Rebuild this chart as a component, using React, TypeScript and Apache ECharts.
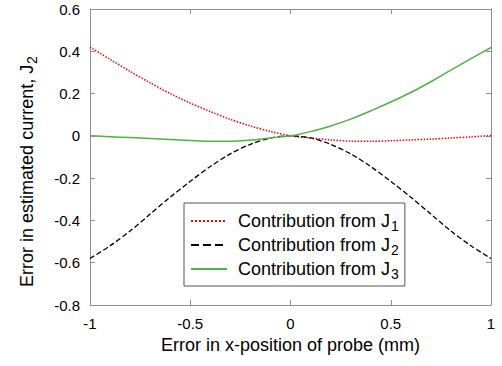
import React, { useEffect, useRef } from "react";
import * as echarts from "echarts";

const xs = [-1, -0.9, -0.8, -0.7, -0.6, -0.5, -0.4, -0.3, -0.2, -0.1, 0, 0.1, 0.2, 0.3, 0.4, 0.5, 0.6, 0.7, 0.8, 0.9, 1];
const j1 = [0.42, 0.362, 0.305, 0.251, 0.2, 0.155, 0.115, 0.078, 0.047, 0.021, 0, -0.01, -0.019, -0.025, -0.026, -0.023, -0.019, -0.015, -0.01, -0.005, 0.002];
const j2 = [-0.58, -0.52, -0.45, -0.37, -0.29, -0.215, -0.145, -0.085, -0.04, -0.01, 0, -0.01, -0.04, -0.085, -0.145, -0.215, -0.29, -0.37, -0.45, -0.52, -0.58];
const j3 = [0, -0.004, -0.008, -0.012, -0.017, -0.022, -0.026, -0.026, -0.02, -0.01, 0, 0.02, 0.047, 0.079, 0.118, 0.16, 0.205, 0.256, 0.311, 0.365, 0.418];

const seriesNames = ["Contribution from J1", "Contribution from J2", "Contribution from J3"];
const subs = ["1", "2", "3"];
const xTicks = { min: -1, max: 1, interval: 0.5 };
const yTicks = { min: -0.8, max: 0.6, interval: 0.2 };
const xName = "Error in x-position of probe (mm)";
const yNameMain = "Error in estimated current, J";
const yNameSub = "2";

const FONT = "Liberation Sans";
const AXIS_COLOR = "#8f8f8f";

export default function App() {
  const ref = useRef<HTMLDivElement>(null);
  useEffect(() => {
    if (!ref.current) return;
    const chart = echarts.init(ref.current, null, { renderer: "svg" });
    const pairs = (ys: number[]) => xs.map((x, i) => [x, ys[i]]);
    const axisCommon = {
      axisLine: { show: true, onZero: false, lineStyle: { color: AXIS_COLOR, width: 1 } },
      axisTick: { show: true, inside: true, length: 5, lineStyle: { color: AXIS_COLOR } },
      splitLine: { show: false },
    };
    chart.setOption({
      animation: false,
      backgroundColor: "#ffffff",
      textStyle: { fontFamily: FONT },
      grid: { left: 90, right: 11, top: 9, bottom: 61, containLabel: false },
      legend: {
        orient: "vertical",
        left: 184,
        top: 203,
        padding: [6, 6, 5, 6],
        itemWidth: 36,
        itemHeight: 14,
        itemGap: 0,
        backgroundColor: "#ffffff",
        borderColor: "#555555",
        borderWidth: 1,
        borderRadius: 0,
        itemStyle: { opacity: 0 },
        data: seriesNames,
        formatter: (name: string) => {
          const i = seriesNames.indexOf(name);
          return `{a|Contribution from J}{s|${subs[i]}}`;
        },
        textStyle: {
          fontFamily: FONT,
          color: "#000",
          padding: [0, 0, 0, 6],
          rich: {
            a: { fontSize: 18, lineHeight: 18, fontFamily: FONT, color: "#000", verticalAlign: "top" },
            s: { fontSize: 14, lineHeight: 12, fontFamily: FONT, color: "#000", padding: [10, 0, 0, 1] },
          },
        },
      },
      xAxis: [
        {
          type: "value",
          position: "bottom",
          ...xTicks,
          ...axisCommon,
          name: xName,
          nameLocation: "middle",
          nameGap: 18,
          nameTextStyle: { fontSize: 18, lineHeight: 18, fontFamily: FONT, color: "#000" },
          axisLabel: { fontSize: 15, color: "#000", fontFamily: FONT, margin: 11 },
        },
        {
          type: "value",
          position: "top",
          ...xTicks,
          ...axisCommon,
          axisLabel: { show: false },
        },
      ],
      yAxis: [
        {
          type: "value",
          position: "left",
          ...yTicks,
          ...axisCommon,
          name: `{a|${yNameMain}}{s|${yNameSub}}`,
          nameLocation: "middle",
          nameRotate: 90,
          nameGap: 54,
          nameTextStyle: {
            fontFamily: FONT,
            rich: {
              a: { fontSize: 18, lineHeight: 18, fontFamily: FONT, color: "#000", verticalAlign: "top" },
              s: { fontSize: 14, lineHeight: 12, fontFamily: FONT, color: "#000", padding: [10, 29, 0, 1] },
            },
          },
          axisLabel: { fontSize: 15, color: "#000", fontFamily: FONT, margin: 10, padding: [4, 0, 0, 0] },
        },
        {
          type: "value",
          position: "right",
          ...yTicks,
          ...axisCommon,
          axisLabel: { show: false },
        },
      ],
      series: [
        {
          name: seriesNames[0],
          type: "line",
          data: pairs(j1),
          smooth: 0.3,
          symbol: "none",
          lineStyle: { color: "#ff0000", width: 1.5, type: "dotted" },
          itemStyle: { color: "#ff0000" },
        },
        {
          name: seriesNames[1],
          type: "line",
          data: pairs(j2),
          smooth: 0.3,
          symbol: "none",
          lineStyle: { color: "#000000", width: 1.3, type: "dashed" },
          itemStyle: { color: "#000000" },
        },
        {
          name: seriesNames[2],
          type: "line",
          data: pairs(j3),
          smooth: 0.3,
          symbol: "none",
          lineStyle: { color: "#52b048", width: 1.5, type: "solid" },
          itemStyle: { color: "#52b048" },
        },
      ],
    });
    return () => chart.dispose();
  }, []);
  return (
    <div
      ref={ref}
      style={{ position: "absolute", left: 0, top: 0, width: 502, height: 366 }}
    />
  );
}
